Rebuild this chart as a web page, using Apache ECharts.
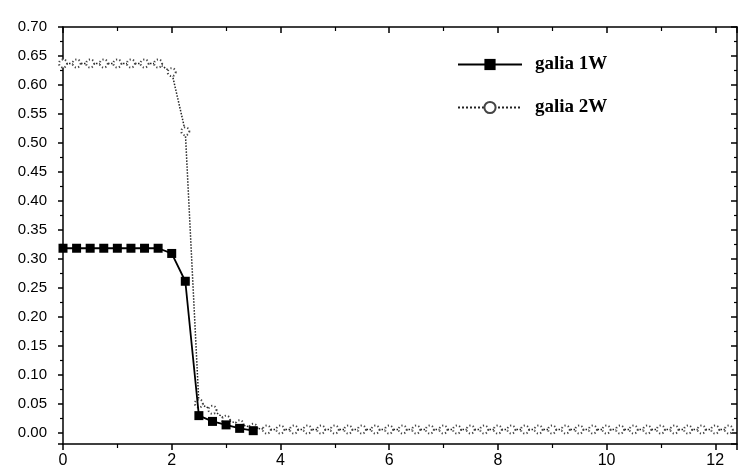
<!DOCTYPE html>
<html>
<head>
<meta charset="utf-8">
<script src="https://cdn.jsdelivr.net/npm/echarts@6/dist/echarts.min.js"></script>
<style>
html,body{margin:0;padding:0;background:#fff;}
#chart{width:740px;height:470px;}
</style>
</head>
<body>
<div id="chart"></div>
<script>
// galia 1W
const x1 = [0, 0.25, 0.5, 0.75, 1.0, 1.25, 1.5, 1.75, 2.0, 2.25, 2.5, 2.75, 3.0, 3.25, 3.5];
const y1 = [0.318, 0.318, 0.318, 0.318, 0.318, 0.318, 0.318, 0.318, 0.309, 0.261, 0.029, 0.019, 0.013, 0.007, 0.003];
// galia 2W
const x2 = [0, 0.25, 0.5, 0.75, 1.0, 1.25, 1.5, 1.75, 2.0, 2.25, 2.5, 2.75, 3.0, 3.25, 3.5, 3.75,
  4.0, 4.25, 4.5, 4.75, 5.0, 5.25, 5.5, 5.75, 6.0, 6.25, 6.5, 6.75, 7.0, 7.25, 7.5, 7.75,
  8.0, 8.25, 8.5, 8.75, 9.0, 9.25, 9.5, 9.75, 10.0, 10.25, 10.5, 10.75, 11.0, 11.25, 11.5, 11.75, 12.0, 12.25];
const y2 = [0.637, 0.637, 0.637, 0.637, 0.637, 0.637, 0.637, 0.637, 0.622, 0.52, 0.05, 0.039, 0.022, 0.014, 0.008, 0.005,
  0.005, 0.005, 0.005, 0.005, 0.005, 0.005, 0.005, 0.005, 0.005, 0.005, 0.005, 0.005, 0.005, 0.005, 0.005, 0.005,
  0.005, 0.005, 0.005, 0.005, 0.005, 0.005, 0.005, 0.005, 0.005, 0.005, 0.005, 0.005, 0.005, 0.005, 0.005, 0.005, 0.005, 0.005];
const seriesNames = ['galia 1W', 'galia 2W'];
const xTicks = [0, 2, 4, 6, 8, 10, 12];

const chart = echarts.init(document.getElementById('chart'));
const axisLine = {show: true, onZero: false, lineStyle: {color: '#000', width: 1.5}};
const xCommon = {type: 'value', min: 0, max: 12.4, interval: 2, splitLine: {show: false}, axisLine: axisLine};
const yCommon = {type: 'value', min: -0.02, max: 0.70, splitNumber: 14, minInterval: 0.05, maxInterval: 0.05,
  splitLine: {show: false}, axisLine: axisLine};

chart.setOption({
  animation: false,
  backgroundColor: '#fff',
  grid: {left: 63, right: 3, top: 27, bottom: 26, containLabel: false},
  legend: {
    orient: 'vertical', left: 452, top: 50, itemWidth: 64, itemHeight: 14, itemGap: 24,
    data: seriesNames,
    textStyle: {fontFamily: 'Liberation Serif', fontWeight: 'bold', fontSize: 19, color: '#000', padding: [0, 0, 0, 8]}
  },
  xAxis: [
    Object.assign({}, xCommon, {
      position: 'bottom',
      axisTick: {show: true, inside: false, length: 6, lineStyle: {color: '#000', width: 1.5}},
      minorTick: {show: true, splitNumber: 2, length: 4, lineStyle: {color: '#000', width: 1.2}},
      axisLabel: {show: true, margin: 9, fontSize: 16, fontFamily: 'Liberation Sans', color: '#000', showMaxLabel: false,
        formatter: v => xTicks.indexOf(v) >= 0 ? String(v) : ''}
    }),
    Object.assign({}, xCommon, {
      position: 'top',
      axisTick: {show: true, inside: true, length: 6, lineStyle: {color: '#000', width: 1.5}},
      minorTick: {show: true, splitNumber: 2, length: 4, lineStyle: {color: '#000', width: 1.2}},
      axisLabel: {show: false}
    })
  ],
  yAxis: [
    Object.assign({}, yCommon, {
      position: 'left',
      axisTick: {show: true, inside: false, length: 5, lineStyle: {color: '#000', width: 1.5}},
      minorTick: {show: true, splitNumber: 2, length: 3, lineStyle: {color: '#000', width: 1.2}},
      axisLabel: {show: true, margin: 16, fontSize: 15, fontFamily: 'Liberation Sans', color: '#000',
        showMinLabel: false, formatter: v => (v < -0.001 ? '' : v.toFixed(2))}
    }),
    Object.assign({}, yCommon, {
      position: 'right',
      axisTick: {show: true, inside: true, length: 6, lineStyle: {color: '#000', width: 1.5}},
      minorTick: {show: true, splitNumber: 2, length: 3, lineStyle: {color: '#000', width: 1.2}},
      axisLabel: {show: false}
    })
  ],
  series: [
    {
      name: seriesNames[0], type: 'line', xAxisIndex: 0, yAxisIndex: 0,
      data: x1.map((x, i) => [x, y1[i]]),
      symbol: 'rect', symbolSize: 9, showAllSymbol: true,
      lineStyle: {color: '#000', width: 1.8, type: 'solid'},
      itemStyle: {color: '#000'},
      z: 3
    },
    {
      name: seriesNames[1], type: 'line', xAxisIndex: 0, yAxisIndex: 0,
      data: x2.map((x, i) => [x, y2[i]]),
      symbol: 'emptyCircle', symbolSize: 8, showAllSymbol: true,
      lineStyle: {color: '#222', width: 1.5, type: 'dotted'},
      itemStyle: {color: '#444', borderColor: '#444', borderWidth: 1.5, borderType: [1.2, 2.2]},
      z: 2
    }
  ]
});
</script>
</body>
</html>
